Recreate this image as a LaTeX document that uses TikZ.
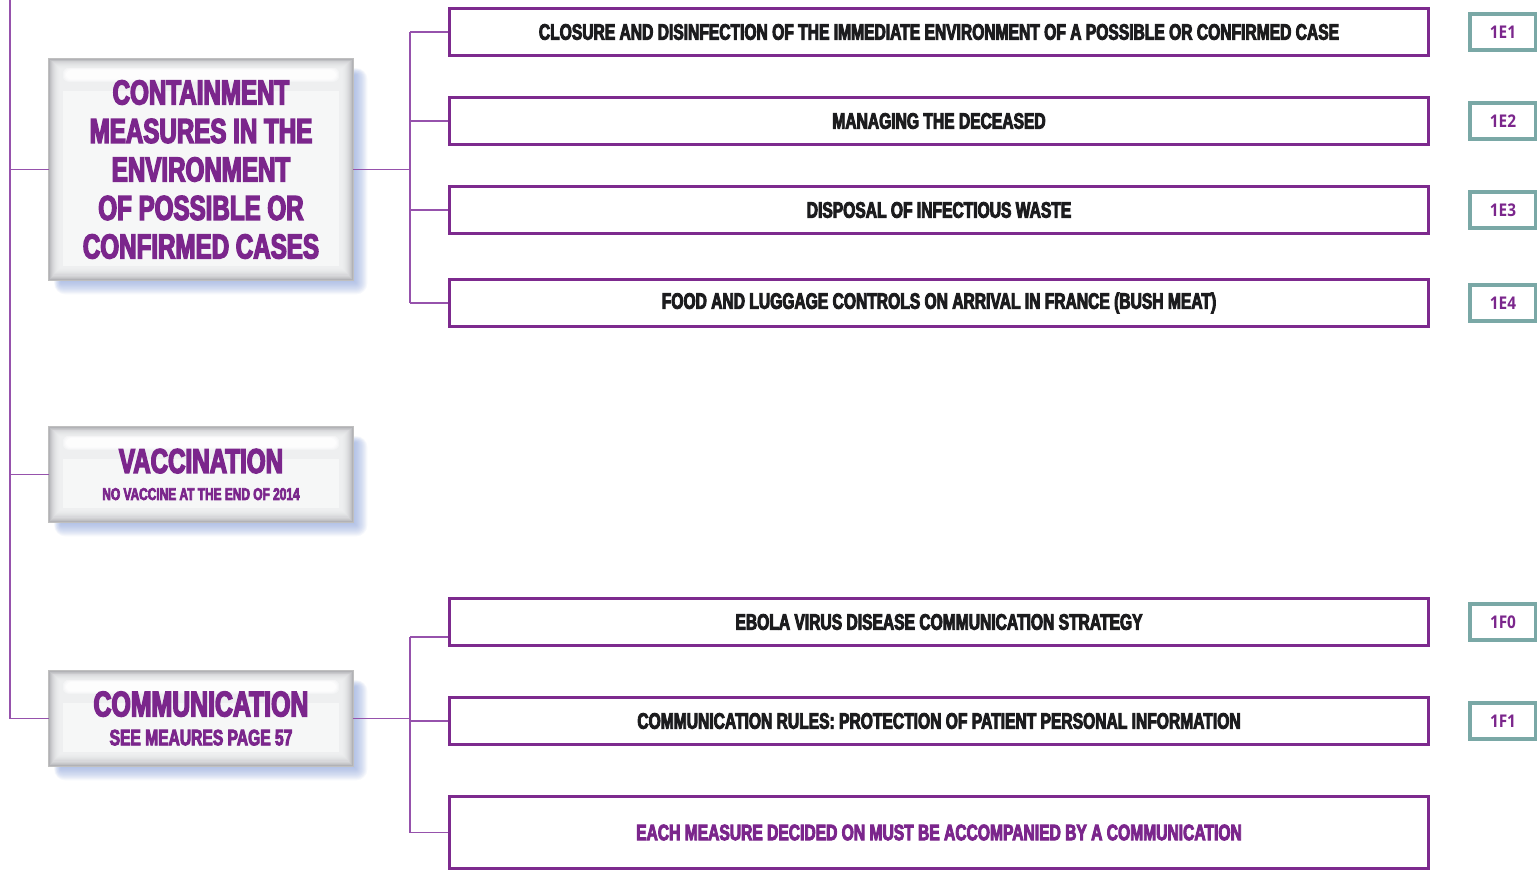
\documentclass[tikz,border=0pt]{standalone}
\usepackage{fontspec}
\setmainfont{Liberation Sans}
\newfontfamily\heavy{Liberation Sans}[FakeStretch=0.70, BoldFeatures={FakeBold=4}]
\newfontfamily\codefont{Open Sans}[FakeStretch=0.88]
\usetikzlibrary{calc,backgrounds}

\definecolor{boxpurple}{RGB}{125,42,142}
\definecolor{linkpurple}{RGB}{150,82,172}
\definecolor{titlepurple}{RGB}{123,38,140}
\definecolor{textblack}{RGB}{28,28,30}
\definecolor{codeteal}{RGB}{122,168,166}
\definecolor{shadowblue}{RGB}{140,164,222}
\definecolor{tilegray}{RGB}{178,178,182}
\definecolor{tilecore}{RGB}{238,239,240}

\tikzset{
  link/.style={draw=linkpurple, line width=1.5pt},
  tile/.style={minimum width=304, inner sep=0pt, align=center, text=titlepurple},
  measure/.style={draw=boxpurple, line width=3pt, fill=white, minimum width=979,
    minimum height=47, inner sep=0pt, text=textblack,
    font=\heavy\bfseries\fontsize{22.3}{26}\selectfont},
  code/.style={draw=codeteal, line width=4pt, fill=white, minimum width=66,
    minimum height=36, inner sep=0pt, text=titlepurple,
    font=\codefont\bfseries\fontsize{17.5}{20}\selectfont},
}

\begin{document}
\begin{tikzpicture}[x=1pt, y=-1pt]
  \useasboundingbox (0,0) rectangle (1537,872);

  % category tiles
  \node[tile, minimum height=221, font=\heavy\bfseries\fontsize{34.5}{38.5}\selectfont] (cont) at (201,169.5)
    {CONTAINMENT\\MEASURES IN THE\\ENVIRONMENT\\OF POSSIBLE OR\\CONFIRMED CASES};
  \node[tile, minimum height=95, font=\heavy\bfseries\fontsize{34.5}{30}\selectfont] (vacc) at (201,474.5)
    {VACCINATION\\[-3pt]
     \fontsize{17}{20}\selectfont NO VACCINE AT THE END OF 2014};
  \node[tile, minimum height=95, font=\heavy\bfseries\fontsize{35.5}{30}\selectfont] (comm) at (201,718.5)
    {COMMUNICATION\\[-1pt]
     \fontsize{22.3}{24}\selectfont SEE MEAURES PAGE 57};

  % glossy tile bodies with soft blue shadows
  \begin{scope}[on background layer]
    \fill[white] (0,0) rectangle (1537,872);
    \foreach \n in {cont,vacc,comm}{
      \foreach \k in {0,...,11}{
        \fill[shadowblue, opacity=0.075, rounded corners=\k pt]
          ($(\n.north west)+(12-\k*0.6,16-\k*0.6)$) rectangle
          ($(\n.south east)+(2+\k*1.1,2+\k*1.1)$);
      }
      \fill[tilegray] (\n.north west) rectangle (\n.south east);
      \foreach \k/\c in {1/22,2/38,3/52,4/63,5/72,6/80,7/86,8/91,9/95,10/98}{
        \fill[tilecore!\c!tilegray]
          ($(\n.north west)+(\k*1.0,\k*0.9)$) rectangle
          ($(\n.south east)+(-\k*1.0,-\k*1.15)$);
      }
      \fill[tilecore] ($(\n.north west)+(11,10)$) rectangle ($(\n.south east)+(-11,-12)$);
      \foreach \k/\o in {0/0.35,1/0.35,2/0.45,3/0.6}{
        \fill[white, opacity=\o, rounded corners=6pt]
          ($(\n.north west)+(14+\k,9+\k*0.7)$) rectangle ($(\n.north east)+(-14-\k,23-\k*0.7)$);
      }
      \fill[white, opacity=0.5] ($(\n.north west)+(14,32)$) rectangle ($(\n.south east)+(-14,-14)$);
      \draw[gray!50, line width=0.8pt] (\n.north west) rectangle (\n.south east);
    }
  \end{scope}

  % measures
  \node[measure] (r1) at (939,32)
    {CLOSURE AND DISINFECTION OF THE IMMEDIATE ENVIRONMENT OF A POSSIBLE OR CONFIRMED CASE};
  \node[measure] (r2) at (939,121) {MANAGING THE DECEASED};
  \node[measure] (r3) at (939,210) {DISPOSAL OF INFECTIOUS WASTE};
  \node[measure] (r4) at (939,303)
    {FOOD AND LUGGAGE CONTROLS ON ARRIVAL IN FRANCE (BUSH MEAT)};
  \node[measure] (r5) at (939,622) {EBOLA VIRUS DISEASE COMMUNICATION STRATEGY};
  \node[measure] (r6) at (939,721)
    {COMMUNICATION RULES: PROTECTION OF PATIENT PERSONAL INFORMATION};
  \node[measure, minimum height=72, text=titlepurple] (r7) at (939,832.5)
    {EACH MEASURE DECIDED ON MUST BE ACCOMPANIED BY A COMMUNICATION};

  % reference codes
  \node[code] (c1) at (1503,32) {1E1};
  \node[code] (c2) at (1503,121) {1E2};
  \node[code] (c3) at (1503,210) {1E3};
  \node[code] (c4) at (1503,303) {1E4};
  \node[code] (c5) at (1503,622) {1F0};
  \node[code] (c6) at (1503,721) {1F1};

  % left spine
  \coordinate (spinetop) at (10,0);
  \draw[link] (spinetop) |- (comm.west);
  \draw[link] (spinetop |- cont.west) -- (cont.west);
  \draw[link] (spinetop |- vacc.west) -- (vacc.west);

  % containment branch
  \coordinate (bus) at (410,0);
  \draw[link] (cont.east) -- (bus |- cont.east);
  \draw[link] (bus |- r1.west) -- (bus |- r4.west);
  \foreach \r in {r1,r2,r3,r4}{
    \draw[link] (bus |- \r.west) -- (\r.west);
  }

  % communication branch
  \coordinate (r5in) at ([yshift=-15pt]r5.west);
  \draw[link] (comm.east) -- (bus |- comm.east);
  \draw[link] (bus |- r5in) -- (bus |- r7.west);
  \draw[link] (bus |- r5in) -- (r5in);
  \draw[link] (bus |- r6.west) -- (r6.west);
  \draw[link] (bus |- r7.west) -- (r7.west);
\end{tikzpicture}
\end{document}
